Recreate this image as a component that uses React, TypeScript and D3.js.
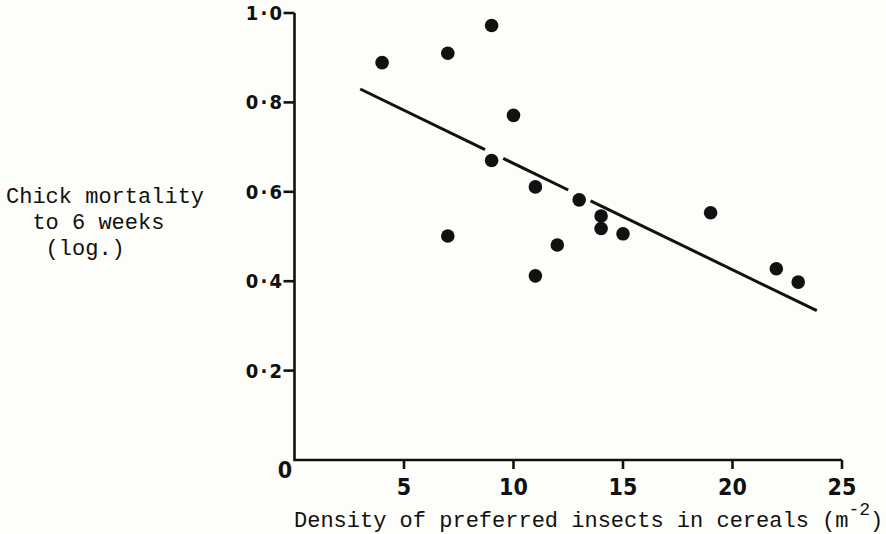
import React from "react";
import * as d3 from "d3";

// ---- data ----
const densities = [4, 7, 9, 10, 9, 11, 7, 13, 14, 14, 15, 12, 11, 19, 22, 23];
const mortality = [0.889, 0.91, 0.972, 0.771, 0.67, 0.611, 0.501, 0.582, 0.546, 0.518, 0.506, 0.481, 0.412, 0.553, 0.428, 0.398];
const fitX = [3, 23.85];
const fitY = [0.83, 0.334];
const fitGaps = [[8.7, 9.53], [12.5, 13.52]];
const xTicks = [5, 10, 15, 20, 25];
const yTicks = [0.2, 0.4, 0.6, 0.8, 1.0];
const yTitleLines = ["Chick mortality", "to 6 weeks", "(log.)"];
const yTitleIndent = [0, 2, 3];
const xTitleMain = "Density of preferred insects in cereals (m";
const xTitleSup = "-2";
const xTitleEnd = ")";

const W = 886;
const H = 534;
const INK = "#111";
const tickFont = "'Liberation Sans Narrow', 'DejaVu Sans Condensed', 'Arial Narrow', sans-serif";
const monoFont = "'Liberation Mono', 'DejaVu Sans Mono', monospace";

export default function App() {
  const x = d3.scaleLinear().domain([0, 25]).range([294.5, 842]);
  const y = d3.scaleLinear().domain([0, 1]).range([460, 13]);
  const fit = d3.scaleLinear().domain(fitX).range(fitY);

  const breaks = [fitX[0], ...fitGaps.flat(), fitX[1]];
  const segs: number[][] = [];
  for (let i = 0; i < breaks.length; i += 2) segs.push([breaks[i], breaks[i + 1]]);
  const line = d3
    .line<number>()
    .x((d) => x(d))
    .y((d) => y(fit(d)));

  const fmt = (v: number) => d3.format(".1f")(v).replace(".", "·");
  const ls = 2.2;
  const charW = 13.2;

  return (
    <svg
      width={W}
      height={H}
      style={{ position: "absolute", left: 0, top: 0, display: "block" }}
    >
      <rect x={0} y={0} width={W} height={H} fill="#fdfdf9" />

      <path
        d={`M${x(0)},${y(1)} V${y(0)} H${x(25)}`}
        fill="none"
        stroke={INK}
        strokeWidth={2.6}
      />
      {yTicks.map((t) => (
        <g key={"yt" + t}>
          <line x1={x(0) - 11} x2={x(0)} y1={y(t)} y2={y(t)} stroke={INK} strokeWidth={2.6} />
          <text
            x={282 + ls}
            y={y(t) + 7}
            textAnchor="end"
            fontFamily={tickFont}
            fontWeight="bold"
            fontSize={20}
            letterSpacing={ls}
            fill={INK}
          >
            {fmt(t)}
          </text>
        </g>
      ))}
      <text
        x={285}
        y={478}
        textAnchor="middle"
        fontFamily={tickFont}
        fontWeight="bold"
        fontSize={23}
        fill={INK}
      >
        0
      </text>
      {xTicks.map((t) => (
        <g key={"xt" + t}>
          <line x1={x(t)} x2={x(t)} y1={y(0)} y2={y(0) + 9} stroke={INK} strokeWidth={2.6} />
          <text
            x={x(t)}
            y={494.5}
            textAnchor="middle"
            fontFamily={tickFont}
            fontWeight="bold"
            fontSize={23}
            fill={INK}
          >
            {t}
          </text>
        </g>
      ))}

      {segs.map((s, i) => (
        <path key={"seg" + i} d={line(s) || ""} fill="none" stroke={INK} strokeWidth={3} />
      ))}

      {densities.map((d, i) => (
        <circle key={"p" + i} cx={x(d)} cy={y(mortality[i])} r={6.8} fill={INK} />
      ))}

      {yTitleLines.map((l, i) => (
        <text
          key={"yl" + i}
          x={6 + yTitleIndent[i] * charW}
          y={203 + i * 26}
          fontFamily={monoFont}
          fontSize={22}
          fill={INK}
          style={{ whiteSpace: "pre" }}
        >
          {l}
        </text>
      ))}

      <text
        x={294}
        y={527}
        fontFamily={monoFont}
        fontSize={22}
        fill={INK}
        style={{ whiteSpace: "pre" }}
      >
        {xTitleMain}
        <tspan dy={-12} fontSize={18}>
          {xTitleSup}
        </tspan>
        <tspan dy={12} fontSize={22}>
          {xTitleEnd}
        </tspan>
      </text>
    </svg>
  );
}
